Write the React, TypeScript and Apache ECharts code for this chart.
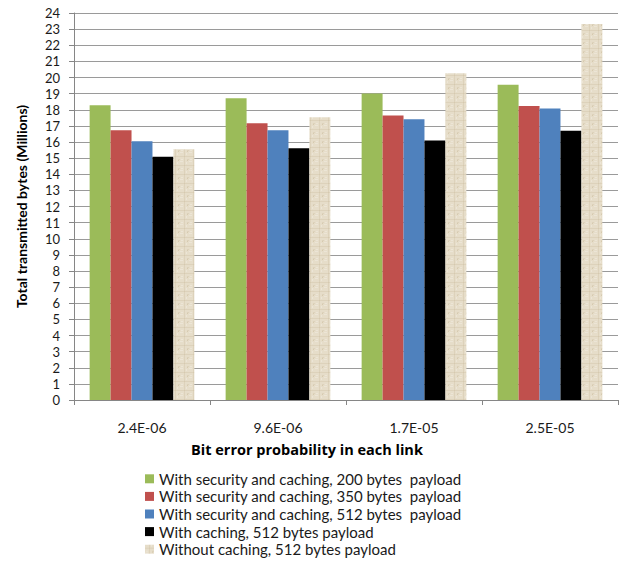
import React, { useEffect, useRef } from "react";
import * as echarts from "echarts";

const categories = ["2.4E-06", "9.6E-06", "1.7E-05", "2.5E-05"];
const seriesNames = [
  "With security and caching, 200 bytes  payload",
  "With security and caching, 350 bytes  payload",
  "With security and caching, 512 bytes  payload",
  "With caching, 512 bytes payload",
  "Without caching, 512 bytes payload",
];
const sec200 = [18.28, 18.72, 19.01, 19.55];
const sec350 = [16.73, 17.16, 17.64, 18.24];
const sec512 = [16.04, 16.73, 17.41, 18.08];
const cache512 = [15.09, 15.61, 16.09, 16.69];
const noCache512 = [15.55, 17.54, 20.27, 23.32];

const FONT = "Lato, 'Liberation Sans', sans-serif";

// Soft burlap-like weave used as the fill of the "without caching" bars.
function makeBurlap(): HTMLCanvasElement {
  const c = document.createElement("canvas");
  c.width = 9;
  c.height = 9;
  const ctx = c.getContext("2d")!;
  ctx.fillStyle = "#e6ddc9";
  ctx.fillRect(0, 0, 9, 9);
  ctx.fillStyle = "#ddd2bb";
  ctx.fillRect(0, 3, 9, 1);
  ctx.fillRect(4, 0, 1, 9);
  ctx.fillRect(7, 6, 2, 1);
  ctx.fillStyle = "#ece5d6";
  ctx.fillRect(1, 6, 2, 1);
  ctx.fillRect(6, 0, 1, 2);
  ctx.fillRect(0, 8, 3, 1);
  ctx.fillStyle = "#d6caaf";
  ctx.fillRect(4, 3, 1, 1);
  ctx.fillRect(7, 7, 1, 1);
  return c;
}

export default function App() {
  const ref = useRef<HTMLDivElement>(null);

  useEffect(() => {
    if (!ref.current) return;
    const chart = echarts.init(ref.current, undefined, { renderer: "svg" });
    const burlap = { image: makeBurlap(), repeat: "repeat" as const };
    const colors: any[] = ["#9bbb59", "#c0504d", "#4f81bd", "#000000", burlap];
    const values = [sec200, sec350, sec512, cache512, noCache512];

    chart.setOption({
      animation: false,
      backgroundColor: "#ffffff",
      grid: { left: 74, right: 7, top: 13, bottom: 164, containLabel: false },
      legend: {
        orient: "vertical",
        left: 140,
        top: 466,
        height: 110,
        itemWidth: 9,
        itemHeight: 9,
        itemGap: 2,
        icon: "rect",
        textStyle: { fontFamily: FONT, fontSize: 15, color: "#1a1a1a", lineHeight: 15.6 },
        data: seriesNames,
      },
      xAxis: {
        type: "category",
        data: categories,
        axisLine: { lineStyle: { color: "#868686", width: 1 } },
        axisTick: { show: true, length: 5, lineStyle: { color: "#868686" } },
        axisLabel: { fontFamily: FONT, fontSize: 14, color: "#1a1a1a", margin: 20 },
      },
      yAxis: {
        type: "value",
        min: 0,
        max: 24,
        interval: 1,
        name: "Total transmitted bytes (Millions)",
        nameLocation: "middle",
        nameGap: 46,
        nameTextStyle: { fontFamily: FONT, fontSize: 14, fontWeight: "bold", color: "#000" },
        axisLine: { show: true, lineStyle: { color: "#868686", width: 1 } },
        axisTick: { show: true, length: 5, lineStyle: { color: "#868686" } },
        axisLabel: { fontFamily: FONT, fontSize: 13, color: "#1a1a1a", margin: 14 },
        splitLine: { lineStyle: { color: "#9a9a9a", width: 1.2 } },
      },
      graphic: [
        {
          type: "text",
          left: 191,
          top: 442,
          style: {
            text: "Bit error probability in each link",
            fontFamily: "'Open Sans', Lato, sans-serif",
            fontSize: 14.5,
            fontWeight: "bold",
            fill: "#000",
          },
        },
      ],
      series: values.map((v, i) => ({
        type: "bar",
        name: seriesNames[i],
        data: v,
        barGap: "0%",
        barCategoryGap: "23%",
        itemStyle: { color: colors[i] },
      })),
    });

    return () => chart.dispose();
  }, []);

  return (
    <div
      ref={ref}
      style={{ position: "fixed", left: 0, top: 0, width: 625, height: 564 }}
    />
  );
}
